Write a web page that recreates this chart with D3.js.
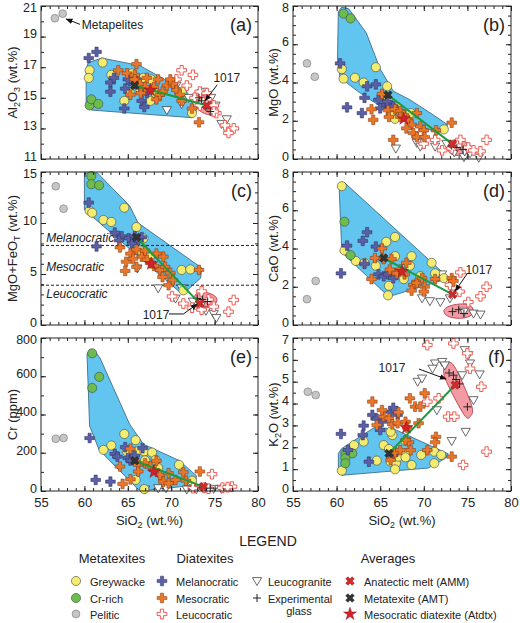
<!DOCTYPE html>
<html><head><meta charset="utf-8">
<script src="https://cdn.jsdelivr.net/npm/d3@7"></script>
<style>
body{margin:0;background:#fff}
text{font-family:"Liberation Sans",Arial,sans-serif;fill:#222}
</style></head><body>
<script>
// ---- data: [SiO2, y] ----
const pelitic_a = [[56.6,20.2],[57.5,20.5]]
const crRich_a = [[60.6,14.5],[60.8,14.9],[61.6,14.6]]
const greywacke_a = [[60.6,16.8],[62.1,17.3],[60.5,16.3],[63.1,16.5],[64.6,14.8],[65.5,16.6],[66.4,15.6],[67.7,16.2],[67.6,14.8],[68.2,15.3],[71.2,15.4],[72.4,14.0],[65.2,15.4],[66.8,16.3]]
const melano_a = [[60.5,17.6],[61.4,18.0],[63.0,16.0],[63.4,16.3],[63.0,15.4],[64.7,15.6],[64.6,14.3],[66.6,14.8],[66.8,15.5],[67.2,15.3],[66.9,14.4],[66.0,16.2],[65.6,15.9],[65.0,16.2]]
const meso_a = [[63.9,16.8],[64.9,16.6],[65.8,16.5],[66.0,17.2],[65.8,16.2],[65.3,15.2],[66.4,15.9],[67.2,16.3],[68.0,15.7],[68.5,16.2],[68.3,14.9],[69.5,15.8],[70.2,15.9],[70.6,15.5],[69.9,16.2],[68.7,15.2],[72.4,14.3],[71.2,14.8],[73.2,13.4],[67.0,15.7],[66.5,15.3],[69.0,15.4],[71.0,15.2]]
const leuco_a = [[71.2,16.8],[72.5,16.5],[70.6,16.2],[71.8,15.8],[73.3,15.4],[74.1,15.3],[74.1,14.9],[73.7,14.7],[74.9,14.5],[75.2,14.0],[76.2,13.2],[77.2,13.0],[76.6,12.7],[74.9,14.1],[73.3,14.5],[72.7,15.0]]
const granite_a = [[70.0,16.0],[70.6,15.8],[69.5,14.2],[71.2,14.6],[72.0,15.0],[73.7,15.4],[74.6,15.0],[75.1,14.5],[76.4,13.6],[75.8,13.3],[74.6,14.1]]
const glass_a = [[73.5,14.8],[74.0,14.4],[73.2,15.0],[74.5,14.1]]

const pelitic_b = [[56.6,5.0],[57.5,4.3]]
const crRich_b = [[60.8,7.6],[61.6,7.35]]
const greywacke_b = [[60.6,4.7],[60.8,4.2],[62.1,4.25],[63.1,4.0],[64.5,4.8],[65.8,3.8],[66.7,2.1],[65.9,3.1],[72.3,1.55],[66.2,2.4],[68.5,2.4],[67.0,2.7]]
const melano_b = [[60.4,5.0],[61.2,2.7],[62.9,2.4],[63.2,3.2],[63.5,3.8],[64.5,3.9],[64.8,3.1],[65.5,2.85],[66.1,2.8],[65.0,2.65],[66.5,2.75],[65.8,3.0]]
const meso_b = [[65.2,3.4],[64.0,2.6],[64.2,2.05],[65.9,2.55],[66.7,2.6],[67.3,2.5],[67.7,2.3],[68.2,2.05],[68.6,1.8],[69.2,2.4],[69.6,1.7],[70.0,1.5],[68.8,1.35],[69.2,1.15],[70.1,1.15],[66.5,1.0],[71.4,1.5],[73.2,1.9],[67.3,2.2],[66.0,2.2],[68.0,1.6]]
const leuco_b = [[70.0,0.8],[71.3,1.0],[72.1,0.45],[73.2,0.55],[74.2,1.0],[75.1,0.6],[76.5,0.4],[77.2,1.0],[75.7,0.45],[73.8,0.7]]
const granite_b = [[66.8,0.55],[69.2,0.85],[69.6,0.65],[71.3,0.65],[72.6,0.8],[74.6,0.1],[76.3,0.07],[73.5,0.35],[74.7,0.4],[75.3,0.3]]
const glass_b = [[73.8,0.6],[74.5,0.5],[73.2,0.7]]

const pelitic_c = [[56.7,13.6],[57.6,11.4]]
const crRich_c = [[60.8,14.6],[60.8,13.8],[61.7,13.7]]
const greywacke_c = [[60.6,11.2],[60.9,11.0],[62.2,10.3],[63.1,10.1],[64.6,11.5],[66.0,9.6],[66.8,8.5],[71.2,5.4],[72.2,5.45],[71.4,3.4],[66.4,7.3],[67.5,6.6]]
const melano_c = [[60.5,12.0],[61.4,7.7],[63.5,9.05],[64.3,8.7],[65.1,8.5],[65.8,8.7],[66.6,8.6],[64.0,8.3],[65.5,8.0],[66.2,8.3]]
const meso_c = [[64.1,7.6],[65.3,7.0],[64.8,6.2],[64.7,5.3],[66.0,7.4],[66.6,6.7],[67.2,6.4],[67.7,6.05],[68.3,7.0],[69.1,6.7],[68.7,5.4],[69.3,5.7],[69.9,5.1],[69.7,3.9],[66.0,5.7],[73.2,5.4],[65.6,6.5],[67.0,7.3],[68.0,5.8],[69.0,4.7],[70.2,4.4]]
const leuco_c = [[70.1,2.8],[71.4,2.1],[73.5,3.3],[74.3,2.5],[76.6,1.3],[77.2,2.45],[73.5,1.5],[74.9,1.8],[72.4,1.7]]
const granite_c = [[66.1,5.55],[68.5,3.6],[72.5,2.3],[74.9,1.1],[75.2,0.7],[73.4,1.9],[71.2,3.6],[70.5,2.6],[74.0,1.4]]
const glass_c = [[73.6,2.5],[74.2,2.3],[73.0,2.6]]

const pelitic_d = [[56.6,1.35],[57.6,2.3]]
const crRich_d = [[60.9,5.4],[61.6,3.65]]
const greywacke_d = [[60.6,7.26],[60.9,3.9],[62.2,3.35],[63.2,3.25],[64.5,3.1],[65.7,4.35],[66.7,4.6],[66.0,2.05],[66.7,3.6],[67.7,2.4],[68.4,3.1],[68.6,3.6],[69.6,2.55],[70.9,3.25],[71.3,2.7],[72.3,2.45],[65.9,1.55]]
const melano_d = [[60.5,2.7],[61.2,4.15],[63.0,4.4],[63.5,4.85],[64.5,4.1],[64.8,2.65],[65.4,2.55],[65.9,2.65],[66.5,2.45],[63.2,3.2]]
const meso_d = [[64.0,2.4],[64.4,3.5],[65.2,4.0],[65.4,3.45],[66.3,3.45],[66.1,2.9],[66.9,2.7],[67.3,2.9],[68.0,3.25],[67.8,2.65],[68.8,2.1],[69.2,2.2],[69.8,2.45],[70.1,2.0],[70.0,1.75],[71.3,2.4],[73.2,2.45],[73.4,2.3],[68.6,1.8]]
const leuco_d = [[73.0,2.1],[74.2,2.75],[77.2,2.0],[76.5,1.5],[75.1,1.2],[74.1,1.75]]
const granite_d = [[69.8,1.4],[70.7,1.25],[71.9,1.2],[73.0,1.4],[74.6,0.7],[75.7,0.6],[76.5,0.55],[72.1,2.65],[73.6,1.65]]
const glass_d = [[73.3,0.7],[74.0,0.8],[74.6,0.6]]

const pelitic_e = [[56.7,273],[57.6,277]]
const crRich_e = [[60.9,720],[61.7,597],[60.9,539]]
const greywacke_e = [[64.6,298],[65.9,266],[63.1,238],[62.2,215],[64.9,207],[66.1,207],[66.9,207],[67.8,201],[70.9,137],[72.4,54],[65.9,58],[66.9,10],[68.2,163],[67.0,160],[68.5,120]]
const melano_e = [[60.6,277],[61.3,58],[63.0,49],[63.5,194],[63.8,180],[64.7,229],[65.0,172],[65.3,160],[66.7,224],[65.8,185]]
const meso_e = [[64.1,128],[65.3,221],[64.4,37],[65.3,61],[66.2,137],[66.2,102],[67.0,145],[67.6,128],[68.3,158],[68.1,110],[68.7,84],[69.1,49],[69.7,93],[70.5,58],[71.4,98],[71.7,54],[73.3,102],[69.7,40]]
const leuco_e = [[74.7,88],[73.8,17],[75.9,17],[77.0,23],[72.5,15],[74.3,12],[76.5,20]]
const granite_e = [[67.0,8],[68.5,15],[69.4,15],[71.8,8],[72.9,10],[74.9,12],[75.8,12]]
const glass_e = [[73.5,20],[74.5,15]]

const pelitic_f = [[56.7,4.54],[57.6,4.39]]
const crRich_f = [[61.0,1.72],[61.8,1.72],[61.0,1.5],[61.0,1.27]]
const greywacke_f = [[60.6,0.93],[62.0,2.1],[63.1,2.26],[64.6,1.39],[65.4,2.1],[66.0,1.92],[66.2,1.34],[66.8,1.27],[66.7,0.99],[67.1,1.57],[68.0,1.72],[67.9,1.54],[68.6,1.19],[69.7,1.65],[71.2,1.8],[71.2,1.27],[72.0,1.65],[66.4,2.56],[66.2,2.71],[67.9,2.3]]
const melano_f = [[60.5,2.61],[63.1,2.99],[63.0,2.56],[63.7,1.34],[61.3,1.87],[64.1,3.48],[64.6,3.3],[65.0,2.79],[65.2,3.17],[66.2,3.63],[66.5,3.81],[66.5,1.65],[67.0,3.48]]
const meso_f = [[64.1,4.09],[64.6,3.02],[65.4,3.4],[65.2,3.7],[66.0,3.32],[66.4,3.05],[67.0,3.1],[67.1,3.6],[67.9,3.17],[68.1,2.9],[68.3,2.23],[67.9,2.33],[68.5,1.87],[66.7,1.77],[67.3,1.87],[68.4,4.24],[69.0,3.86],[69.6,3.86],[70.1,4.47],[69.4,3.1],[71.4,2.48],[71.3,2.23],[70.4,1.87],[73.2,1.57],[66.2,1.42]]
const leuco_f = [[70.4,6.68],[73.4,6.75],[75.3,5.6],[76.6,4.77],[71.7,4.24],[70.4,4.09],[72.8,3.4],[74.5,1.19],[77.2,1.8],[73.5,3.4],[75.0,6.3]]
const granite_f = [[69.3,5.0],[69.8,5.15],[71.3,5.84],[72.1,5.91],[74.7,6.45],[75.3,5.84],[76.4,5.34],[75.7,4.16],[74.8,2.71],[73.2,2.29],[74.4,5.3],[75.1,6.22],[71.0,5.6],[72.4,5.75],[71.5,3.7]]
const glass_f = [[72.9,5.4],[73.4,5.3],[73.7,5.1],[74.1,4.9],[75.0,3.85]]

// metatexite fields (blue) and experimental-glass fields (pink)
const field_a = [[60.2,16.9],[60.45,17.3],[62.0,17.6],[66.4,17.1],[71.8,15.4],[72.9,14.1],[72.4,13.7],[60.8,14.2],[60.2,14.6]]
const field_b = [[60.2,7.7],[60.6,7.95],[61.4,7.85],[63.4,6.6],[65.0,4.7],[66.5,3.55],[68.4,3.1],[71.1,2.3],[72.7,1.8],[72.6,1.45],[71.5,1.4],[68.4,1.9],[65.7,2.55],[62.7,3.45],[60.4,4.25],[60.1,5.2]]
const field_c = [[60.0,14.9],[61.5,14.9],[65.2,11.7],[66.2,10.0],[73.5,5.6],[73.4,4.6],[71.3,3.0],[60.0,11.3]]
const field_d = [[60.3,7.1],[60.5,7.4],[60.9,7.45],[72.4,2.65],[72.6,2.4],[66.1,1.5],[65.7,1.6],[60.6,3.8]]
const field_e = [[60.3,715],[60.6,740],[61.1,738],[61.8,695],[65.2,350],[66.8,245],[70.9,160],[72.9,80],[72.8,30],[67.3,5],[66.2,8],[61.7,215],[60.6,340]]
const field_f = [[60.2,1.72],[60.6,1.95],[64.3,2.9],[66.5,2.85],[72.8,1.7],[72.5,1.5],[70.5,1.05],[60.6,0.72],[60.2,0.9]]
const glassField_a = [[72.9,15.5],[74.2,15.4],[75.0,14.5],[74.5,13.9],[73.2,14.2],[72.7,14.9]]
const glassField_b = [[72.6,0.7],[73.5,1.0],[75.0,0.85],[75.6,0.45],[74.8,0.2],[73.2,0.25]]
const glassField_c = [[72.8,3.0],[74.0,3.2],[75.2,2.7],[75.0,2.0],[73.8,1.8],[72.9,2.2]]
const glassField_d = [[72.3,0.75],[73.0,1.0],[74.5,1.1],[75.6,0.9],[75.4,0.5],[74.2,0.35],[72.8,0.45]]
const glassField_f = [[72.3,5.6],[72.9,5.9],[73.8,5.5],[75.5,3.9],[75.3,3.4],[74.6,3.5],[72.6,5.0]]

// averages: [metatexite AMT, anatectic melt AMM], mesocratic diatexite star
const trend_a = [[65.8,15.8],[74.1,14.5]], star_a = [67.6,15.5]
const trend_b = [[65.9,3.35],[73.3,0.78]], star_b = [67.7,2.1]
const trend_c = [[66.0,8.6],[73.3,2.1]], star_c = [67.7,6.0]
const trend_d = [[65.4,3.5],[73.3,1.6]], star_d = [67.5,2.8]
const trend_e = [[65.8,158],[73.7,23]], star_e = [68.0,100]
const trend_f = [[66.0,1.72],[73.6,4.85]], star_f = [68.0,2.9]

const xTicks = [55,60,65,70,75,80]
const modeLimits = [7.8, 3.9]  // melanocratic / mesocratic / leucocratic boundaries in (c)

// ---- drawing ----
const svg = d3.select("body").append("svg").attr("width", 520).attr("height", 623)
svg.append("defs").append("marker").attr("id", "ah").attr("viewBox", "0 0 10 10")
    .attr("refX", 9).attr("refY", 5).attr("markerWidth", 7).attr("markerHeight", 7)
    .attr("orient", "auto-start-reverse")
    .append("path").attr("d", "M0,1L10,5L0,9Z").attr("fill", "#111")

const styles = {
    greywacke: {sym: d3.symbolCircle, size: 66, fill: "#f3ec6e", stroke: "#444", sw: 0.6},
    crRich: {sym: d3.symbolCircle, size: 66, fill: "#6dbd4c", stroke: "#444", sw: 0.6},
    pelitic: {sym: d3.symbolCircle, size: 48, fill: "#c6c6c6", stroke: "#777", sw: 0.6},
    melano: {sym: d3.symbolCross, size: 52, fill: "#5b5fa6", stroke: "#2b2c5c", sw: 0.5},
    meso: {sym: d3.symbolCross, size: 52, fill: "#ec7628", stroke: "#7a3410", sw: 0.5},
    leuco: {sym: d3.symbolCross, size: 52, fill: "#fff", stroke: "#ef5a52", sw: 1},
    granite: {path: "M-4.6,-3.4L4.6,-3.4L0,4.6Z", fill: "#fff", stroke: "#444", sw: 0.8},
    glass: {path: "M-4,0H4M0,-4V4", fill: "none", stroke: "#222", sw: 1},
    amm: {sym: d3.symbolCross, size: 46, rot: 45, fill: "#d42a2a", stroke: "#6a0f0f", sw: 0.4},
    amt: {sym: d3.symbolCross, size: 46, rot: 45, fill: "#333", stroke: "#111", sw: 0.4},
    star: {sym: d3.symbolStar, size: 52, fill: "#d3202a", stroke: "#6a0f0f", sw: 0.4}
}

function marker(g, key, cx, cy) {
    const s = styles[key]
    const d = s.path || d3.symbol(s.sym, s.size)()
    g.append("path").attr("d", d)
        .attr("transform", `translate(${cx},${cy})` + (s.rot ? ` rotate(${s.rot})` : ""))
        .attr("fill", s.fill).attr("stroke", s.stroke).attr("stroke-width", s.sw)
        .attr("stroke-linejoin", "round")
}

// text made of plain and subscript parts
function richText(sel, parts) {
    let shift = 0
    parts.forEach(([t, sub]) => {
        const want = sub ? 3 : 0
        const ts = sel.append("tspan").text(t)
        if (want !== shift) ts.attr("dy", want - shift)
        if (sub) ts.attr("font-size", 9)
        shift = want
    })
}

const cols = [[41, 258], [293, 511]]
const titleOffset = [29, 20]
const rows = [[6, 159], [172, 325], [338, 491]]

const panels = [
    {id: "a", c: 0, r: 0, dom: [11, 21], major: d3.range(11, 22, 2), minor: d3.range(11, 21.1, 1),
     title: [["Al"], ["2", 1], ["O"], ["3", 1], [" (wt.%)"]],
     pts: {pelitic: pelitic_a, greywacke: greywacke_a, crRich: crRich_a, granite: granite_a, leuco: leuco_a, melano: melano_a, meso: meso_a, glass: glass_a},
     field: field_a, gfield: glassField_a, trend: trend_a, star: star_a,
     notes: [{t: "1017", at: [76.4, 16.3], arrow: [[75.3, 15.85], [73.9, 14.8]]},
             {t: "Metapelites", at: [59.7, 19.75], anchor: "start", arrow: [[59.5, 19.8], [57.9, 20.15]]}]},
    {id: "b", c: 1, r: 0, dom: [0, 8], major: d3.range(0, 9, 2), minor: d3.range(0, 8.01, 0.5),
     title: [["MgO (wt.%)"]],
     pts: {pelitic: pelitic_b, greywacke: greywacke_b, crRich: crRich_b, granite: granite_b, leuco: leuco_b, melano: melano_b, meso: meso_b, glass: glass_b},
     field: field_b, gfield: glassField_b, trend: trend_b, star: star_b, notes: []},
    {id: "c", c: 0, r: 1, dom: [0, 15], major: [0, 5, 10, 15], minor: d3.range(0, 15.1, 1),
     title: [["MgO+FeO"], ["T", 1], [" (wt.%)"]],
     pts: {pelitic: pelitic_c, greywacke: greywacke_c, crRich: crRich_c, granite: granite_c, leuco: leuco_c, melano: melano_c, meso: meso_c, glass: glass_c},
     field: field_c, gfield: glassField_c, trend: trend_c, star: star_c, modes: true,
     notes: [{t: "1017", at: [68.25, 0.98], arrow: [[69.75, 1.08], [71.4, 1.08], [73.0, 2.06]]}]},
    {id: "d", c: 1, r: 1, dom: [0, 8], major: d3.range(0, 9, 2), minor: d3.range(0, 8.01, 0.5),
     title: [["CaO (wt.%)"]],
     pts: {pelitic: pelitic_d, greywacke: greywacke_d, crRich: crRich_d, granite: granite_d, leuco: leuco_d, melano: melano_d, meso: meso_d, glass: glass_d},
     field: field_d, gfield: glassField_d, trend: trend_d, star: star_d,
     notes: [{t: "1017", at: [76.3, 2.88], arrow: [[75.0, 2.7], [73.6, 1.78]]}]},
    {id: "e", c: 0, r: 2, dom: [0, 800], major: d3.range(0, 801, 200), minor: d3.range(0, 801, 100),
     title: [["Cr (ppm)"]], xlab: true,
     pts: {pelitic: pelitic_e, greywacke: greywacke_e, crRich: crRich_e, granite: granite_e, leuco: leuco_e, melano: melano_e, meso: meso_e, glass: glass_e},
     field: field_e, trend: trend_e, star: star_e, notes: []},
    {id: "f", c: 1, r: 2, dom: [0, 7], major: d3.range(0, 8, 1), minor: d3.range(0, 7.01, 0.5),
     title: [["K"], ["2", 1], ["O (wt.%)"]], xlab: true,
     pts: {pelitic: pelitic_f, greywacke: greywacke_f, crRich: crRich_f, granite: granite_f, leuco: leuco_f, melano: melano_f, meso: meso_f, glass: glass_f},
     field: field_f, gfield: glassField_f, trend: trend_f, star: star_f,
     notes: [{t: "1017", at: [66.35, 5.63], arrow: [[69.45, 5.58], [72.55, 5.12]]}]}
]

panels.forEach(p => {
    const [x0, x1] = cols[p.c], [y0, y1] = rows[p.r]
    const x = d3.scaleLinear().domain([55, 80]).range([x0, x1])
    const y = d3.scaleLinear().domain(p.dom).range([y1, y0])
    const line = d3.line().x(d => x(d[0])).y(d => y(d[1]))
    const g = svg.append("g")

    g.append("path").datum(p.field).attr("d", line.curve(d3.curveLinearClosed))
        .attr("fill", "#62c5ef").attr("stroke", "#3d6d8c").attr("stroke-width", 0.9)
        .attr("stroke-linejoin", "round")
    if (p.gfield) g.append("path")
        .attr("d", d3.line().x(d => x(d[0])).y(d => y(d[1])).curve(d3.curveCardinalClosed)(p.gfield))
        .attr("fill", "#f39ba2").attr("stroke", "#a93040").attr("stroke-width", 0.8)

    if (p.modes) {
        modeLimits.forEach(v => g.append("line").attr("x1", x0).attr("x2", x1)
            .attr("y1", y(v)).attr("y2", y(v)).attr("stroke", "#222").attr("stroke-dasharray", "3,2"))
        ;[["Melanocratic", 8.55], ["Mesocratic", 5.7], ["Leucocratic", 3.05]].forEach(([t, v]) =>
            g.append("text").attr("x", x(55.6)).attr("y", y(v)).attr("dy", "0.35em")
                .attr("font-size", 12).attr("font-style", "italic").attr("fill", "#333").text(t))
    }

    ;["pelitic", "granite", "greywacke", "crRich", "leuco", "melano", "meso", "glass"].forEach(k =>
        p.pts[k].forEach(d => marker(g, k, x(d[0]), y(d[1]))))

    g.append("path").attr("d", line.curve(d3.curveLinear)(p.trend))
        .attr("fill", "none").attr("stroke", "#1c9a3c").attr("stroke-width", 2)
    marker(g, "amt", x(p.trend[0][0]), y(p.trend[0][1]))
    marker(g, "star", x(p.star[0]), y(p.star[1]))
    marker(g, "amm", x(p.trend[1][0]), y(p.trend[1][1]))

    p.notes.forEach(n => {
        g.append("text").attr("x", x(n.at[0])).attr("y", y(n.at[1])).attr("dy", "0.35em")
            .attr("text-anchor", n.anchor || "middle").attr("font-size", 12).text(n.t)
        g.append("path").attr("d", line(n.arrow)).attr("fill", "none")
            .attr("stroke", "#111").attr("stroke-width", 1).attr("marker-end", "url(#ah)")
    })

    // frame and inward ticks on all four sides
    g.append("rect").attr("x", x0).attr("y", y0).attr("width", x1 - x0).attr("height", y1 - y0)
        .attr("fill", "none").attr("stroke", "#222").attr("stroke-width", 1)
    const minorX = d3.range(55, 80.1, 1)
    const axes = [
        [d3.axisBottom(x).tickValues(xTicks).tickSize(-5).tickPadding(7).tickFormat(p.xlab ? d3.format("d") : ""), `translate(0,${y1})`, 13],
        [d3.axisBottom(x).tickValues(minorX).tickSize(-3).tickFormat(""), `translate(0,${y1})`],
        [d3.axisTop(x).tickValues(xTicks).tickSize(-5).tickFormat(""), `translate(0,${y0})`],
        [d3.axisTop(x).tickValues(minorX).tickSize(-3).tickFormat(""), `translate(0,${y0})`],
        [d3.axisLeft(y).tickValues(p.major).tickSize(-5).tickPadding(4).tickFormat(d3.format("d")), `translate(${x0},0)`, 12.5],
        [d3.axisLeft(y).tickValues(p.minor).tickSize(-3).tickFormat(""), `translate(${x0},0)`],
        [d3.axisRight(y).tickValues(p.major).tickSize(-5).tickFormat(""), `translate(${x1},0)`],
        [d3.axisRight(y).tickValues(p.minor).tickSize(-3).tickFormat(""), `translate(${x1},0)`]
    ]
    axes.forEach(([ax, tr, fs], i) => {
        const a = g.append("g").attr("transform", tr).call(ax)
        a.select(".domain").remove()
        a.selectAll("line").attr("stroke", "#222")
        if (fs) a.selectAll("text").attr("font-size", fs).attr("fill", "#222")
            .attr("font-family", '"Liberation Sans", Arial, sans-serif')
        else a.selectAll("text").remove()
        // y labels sit a little above their ticks, except the top one which stays inside the page
        if (i === 4) a.selectAll("text").attr("dy", d => d === p.dom[1] ? "0.45em" : "0.1em")
    })

    g.append("text").attr("x", x1 - 6).attr("y", y0 + 25).attr("text-anchor", "end")
        .attr("font-size", 18).text(`(${p.id})`)

    const yt = g.append("text").attr("text-anchor", "middle").attr("font-size", 13)
        .attr("transform", `translate(${x0 - titleOffset[p.c]},${(y0 + y1) / 2}) rotate(-90)`)
        .attr("dy", "0.35em")
    richText(yt, p.title)

    if (p.xlab) {
        const xt = g.append("text").attr("x", (x0 + x1) / 2).attr("y", 525)
            .attr("text-anchor", "middle").attr("font-size", 13)
        richText(xt, [["SiO"], ["2", 1], [" (wt.%)"]])
    }
})

// ---- legend ----
svg.append("text").attr("x", 268).attr("y", 546).attr("text-anchor", "middle").attr("font-size", 14).text("LEGEND")
;[["Metatexites", 112], ["Diatexites", 205], ["Averages", 388]].forEach(([t, cx]) =>
    svg.append("text").attr("x", cx).attr("y", 563).attr("text-anchor", "middle").attr("font-size", 13).text(t))

const legendItems = [
    ["greywacke", "Greywacke", 76, 0], ["crRich", "Cr-rich", 76, 1], ["pelitic", "Pelitic", 76, 2],
    ["melano", "Melanocratic", 162, 0], ["meso", "Mesocratic", 162, 1], ["leuco", "Leucocratic", 162, 2],
    ["granite", "Leucogranite", 257, 0], ["glass", "Experimental", 257, 1],
    ["amm", "Anatectic melt (AMM)", 350, 0], ["amt", "Metatexite (AMT)", 350, 1], ["star", "Mesocratic diatexite (Atdtx)", 350, 2]
]
const rowY = [582, 599, 615]
const lg = svg.append("g")
legendItems.forEach(([k, t, lx, r]) => {
    marker(lg, k, lx, rowY[r] - 1)
    lg.append("text").attr("x", lx + (k === "granite" || k === "glass" ? 11 : 14)).attr("y", rowY[r] + 4)
        .attr("font-size", 11).text(t)
})
lg.append("text").attr("x", 299).attr("y", 615).attr("text-anchor", "middle").attr("font-size", 11).text("glass")
</script></body></html>
